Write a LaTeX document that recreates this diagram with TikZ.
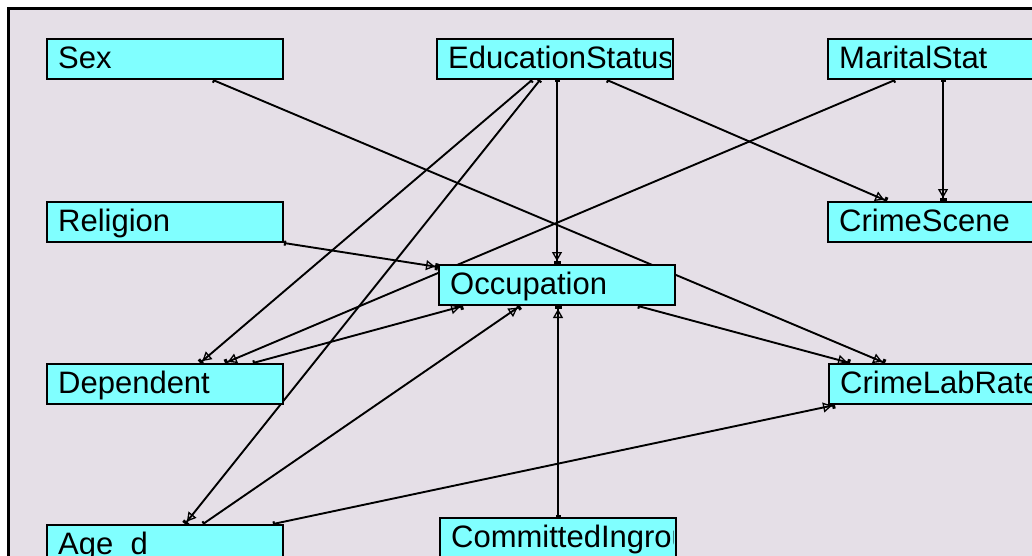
\documentclass[tikz,border=0pt]{standalone}
\usepackage{fontspec}
\newfontfamily\lab{Liberation Sans}
\usetikzlibrary{arrows.meta}
\definecolor{bgc}{RGB}{229,223,231}
\definecolor{boxc}{RGB}{128,255,255}
\pgfdeclarelayer{bglayer}
\pgfdeclarelayer{edgelayer}
\pgfsetlayers{bglayer,edgelayer,main}
\tikzset{
  box/.style={draw=black, line width=2pt, fill=boxc, rectangle,
    minimum width=236pt, minimum height=40pt, inner sep=0pt, anchor=north west},
  lbl/.style={anchor=base west, inner sep=0pt, font={\lab\fontsize{31pt}{37pt}\selectfont}},
  conn/.style={line width=1.9pt, draw=black,
    {Square[length=2pt,width=5pt]}-{Triangle[open,length=9pt,width=10pt,line width=1.3pt] Square[length=3pt,width=7pt]}}
}
\newcommand\mkbox[4]{%
  \node[box] (#1) at (#2,#3) {};
  \begin{scope}
    \clip ([shift={(1pt,-1pt)}]#1.north west) rectangle ([shift={(-4pt,1pt)}]#1.south east);
    \node[lbl] (#1-t) at ([xshift=12pt,yshift=12pt]#1.south west) {#4};
  \end{scope}}
\begin{document}
\begin{tikzpicture}[x=1pt,y=-1pt]
\useasboundingbox (0,0) rectangle (1032,555);
\begin{pgfonlayer}{bglayer}
\fill[white] (0,0) rectangle (1032,555);
\draw[line width=3pt, fill=bgc] (8.5,8.5) rectangle (1100,620);
\end{pgfonlayer}

\mkbox{sex}{46}{38}{Sex}
\mkbox{edu}{436}{38}{EducationStatus}
\mkbox{mar}{827}{38}{MaritalStat}
\mkbox{rel}{46}{201}{Religion}
\mkbox{cs}{827}{201}{CrimeScene}
\mkbox{occ}{438}{264}{Occupation}
\mkbox{dep}{46}{363}{Dependent}
\mkbox{clr}{828}{363}{CrimeLabRate}
\mkbox{age}{46}{524}{Age\_d}
\mkbox{com}{439}{517}{CommittedIngroup}

\begin{pgfonlayer}{edgelayer}
\draw[conn] ([xshift=167pt]sex.south west) -- ([xshift=57pt]clr.north west);
\draw[conn] ([xshift=96pt]edu.south west) -- ([xshift=154pt]dep.north west);
\draw[conn] ([xshift=104pt]edu.south west) -- ([xshift=139pt]age.north west);
\draw[conn] ([xshift=121pt]edu.south west) -- ([xshift=119pt]occ.north west);
\draw[conn] ([xshift=171pt]edu.south west) -- ([xshift=60pt]cs.north west);
\draw[conn] ([xshift=68pt]mar.south west) -- ([xshift=179pt]dep.north west);
\draw[conn] ([xshift=116pt]mar.south west) -- ([xshift=116pt]cs.north west);
\draw[conn] (rel.south east) -- ([yshift=-3pt]occ.north west);
\draw[conn] ([xshift=207pt]dep.north west) -- ([xshift=25pt]occ.south west);
\draw[conn] ([xshift=157pt]age.north west) -- ([xshift=82pt]occ.south west);
\draw[conn] ([xshift=227pt]age.north west) -- ([xshift=7pt]clr.south west);
\draw[conn] ([xshift=119pt]com.north west) -- ([xshift=120pt]occ.south west);
\draw[conn] ([xshift=200pt]occ.south west) -- ([xshift=22pt]clr.north west);
\end{pgfonlayer}
\end{tikzpicture}
\end{document}
